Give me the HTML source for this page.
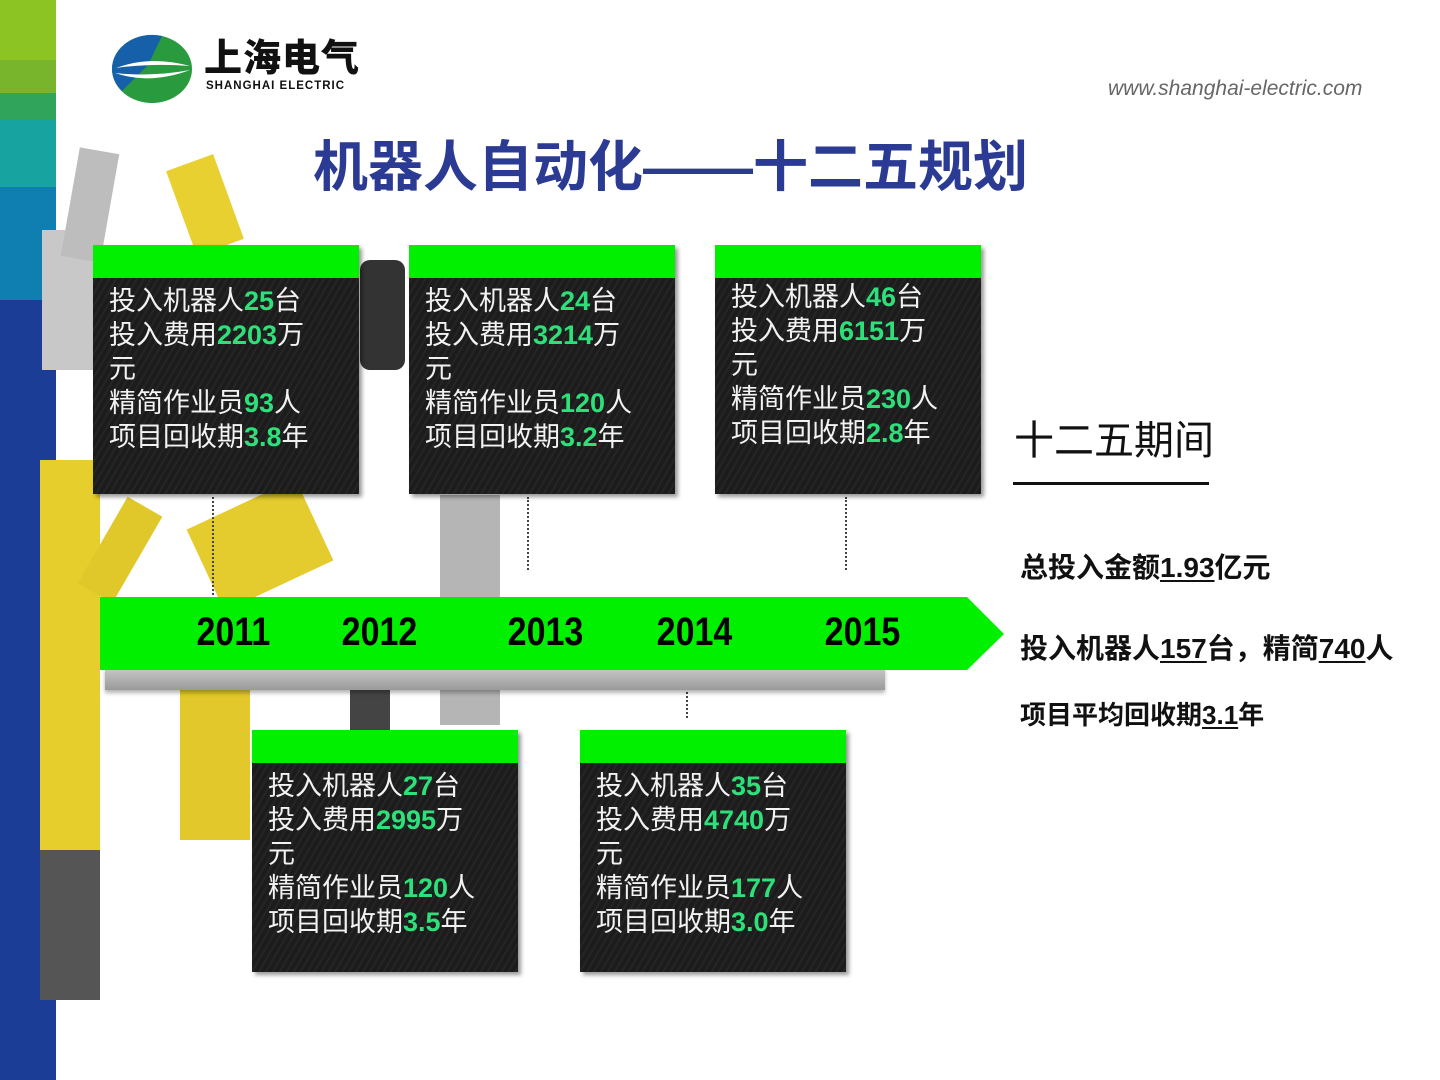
<!DOCTYPE html>
<html><head><meta charset="utf-8"><style>
body{margin:0;width:1440px;height:1080px;position:relative;overflow:hidden;background:#fff;font-family:"Liberation Sans","Noto Sans CJK SC",sans-serif}
.a{position:absolute}
.box{position:absolute;width:266px;background:#1c1c1c;background-image:repeating-linear-gradient(120deg,rgba(255,255,255,0.04) 0 2px,transparent 2px 6px);box-shadow:3px 3px 4px rgba(0,0,0,.4)}
.box .g{height:33px;background:#00f000}
.box .t{color:#f2f2f2;font-size:27px;line-height:34px;padding:6px 0 0 16px;white-space:nowrap}
.box b{color:#2de07a;font-weight:bold}
.yr{position:absolute;top:610px;font-family:"Liberation Sans Narrow","Liberation Sans",sans-serif;font-weight:bold;font-size:40px;color:#000;transform:scaleX(.85);transform-origin:center}
.dot{position:absolute;border-left:2px dotted #444;width:0}
.r{position:absolute;left:1020px;font-size:28px;font-weight:bold;color:#111;white-space:nowrap}
.r u{text-decoration:underline;text-underline-offset:3px}
</style></head><body>
<!-- left strip -->
<div class="a" style="left:0;top:0;width:56px;height:60px;background:#8cc423"></div>
<div class="a" style="left:0;top:60px;width:56px;height:33px;background:#78b42c"></div>
<div class="a" style="left:0;top:93px;width:56px;height:27px;background:#2fa45a"></div>
<div class="a" style="left:0;top:120px;width:56px;height:67px;background:#17a3a0"></div>
<div class="a" style="left:0;top:187px;width:56px;height:113px;background:#0f7fb2"></div>
<div class="a" style="left:0;top:300px;width:56px;height:780px;background:#1b3d96"></div>
<!-- robot approximations -->
<div class="a" style="left:42px;top:230px;width:60px;height:140px;background:#c8c8c8"></div>
<div class="a" style="left:70px;top:150px;width:40px;height:110px;background:#bdbdbd;transform:rotate(10deg)"></div>
<div class="a" style="left:180px;top:160px;width:50px;height:90px;background:#e8d030;transform:rotate(-20deg)"></div>
<div class="a" style="left:40px;top:460px;width:60px;height:500px;background:#e6cf2c"></div>
<div class="a" style="left:100px;top:500px;width:40px;height:100px;background:#e0c82a;transform:rotate(30deg)"></div>
<div class="a" style="left:180px;top:690px;width:70px;height:150px;background:#e2c82a"></div>
<div class="a" style="left:40px;top:850px;width:60px;height:150px;background:#555"></div>
<div class="a" style="left:200px;top:500px;width:120px;height:90px;background:#e4cc2e;transform:rotate(-25deg)"></div>
<div class="a" style="left:360px;top:260px;width:45px;height:110px;background:#333;border-radius:10px"></div>
<div class="a" style="left:440px;top:495px;width:60px;height:230px;background:#b5b5b5"></div>
<div class="a" style="left:350px;top:680px;width:40px;height:50px;background:#444"></div>
<!-- logo -->
<svg class="a" style="left:110px;top:33px" width="85" height="72" viewBox="0 0 85 72">
<ellipse cx="42" cy="36" rx="40" ry="34" fill="#2a9a3e"/>
<path d="M2 36 A40 34 0 0 1 52 3 L38 32 Z" fill="#1560a8"/>
<path d="M2 36 A40 34 0 0 0 12 58 L38 32 Z" fill="#1560a8"/>
<path d="M6 35 Q40 22 80 33 Q42 30 6 35Z" fill="#fff"/>
<path d="M5 40 Q42 44 80 37 Q40 52 5 40Z" fill="#fff"/>
</svg>
<div class="a" style="left:204px;top:36px;font-size:38px;line-height:46px;font-weight:900;color:#111;letter-spacing:1px">上海电气</div>
<div class="a" style="left:206px;top:80px;font-size:11.5px;font-weight:bold;color:#111;letter-spacing:1px">SHANGHAI ELECTRIC</div>
<div class="a" style="left:1108px;top:77px;font-size:21px;font-style:italic;color:#666">www.shanghai-electric.com</div>
<div class="a" style="left:313px;top:122px;font-size:55px;font-weight:bold;color:#2b3a92;white-space:nowrap">机器人自动化——十二五规划</div>
<!-- dotted connectors -->
<div class="dot" style="left:212px;top:497px;height:98px"></div>
<div class="dot" style="left:527px;top:497px;height:73px"></div>
<div class="dot" style="left:845px;top:497px;height:73px"></div>
<div class="dot" style="left:686px;top:683px;height:35px"></div>
<!-- timeline -->
<div class="a" style="left:105px;top:668px;width:780px;height:22px;background:linear-gradient(#c8c8c8,#9a9a9a);box-shadow:0 3px 4px rgba(0,0,0,.3)"></div>
<svg class="a" style="left:100px;top:597px" width="906" height="74"><polygon points="0,0 867,0 904,37 867,73 0,73" fill="#00f000"/></svg>
<div class="yr" style="left:190px">2011</div>
<div class="yr" style="left:335px">2012</div>
<div class="yr" style="left:501px">2013</div>
<div class="yr" style="left:650px">2014</div>
<div class="yr" style="left:818px">2015</div>
<!-- boxes -->
<div class="box" style="left:93px;top:245px;height:249px"><div class="g"></div><div class="t">投入机器人<b>25</b>台<br>投入费用<b>2203</b>万<br>元<br>精简作业员<b>93</b>人<br>项目回收期<b>3.8</b>年</div></div>
<div class="box" style="left:409px;top:245px;height:249px"><div class="g"></div><div class="t">投入机器人<b>24</b>台<br>投入费用<b>3214</b>万<br>元<br>精简作业员<b>120</b>人<br>项目回收期<b>3.2</b>年</div></div>
<div class="box" style="left:715px;top:245px;height:249px"><div class="g"></div><div class="t" style="padding-top:2px">投入机器人<b>46</b>台<br>投入费用<b>6151</b>万<br>元<br>精简作业员<b>230</b>人<br>项目回收期<b>2.8</b>年</div></div>
<div class="box" style="left:252px;top:730px;height:242px"><div class="g"></div><div class="t">投入机器人<b>27</b>台<br>投入费用<b>2995</b>万<br>元<br>精简作业员<b>120</b>人<br>项目回收期<b>3.5</b>年</div></div>
<div class="box" style="left:580px;top:730px;height:242px"><div class="g"></div><div class="t">投入机器人<b>35</b>台<br>投入费用<b>4740</b>万<br>元<br>精简作业员<b>177</b>人<br>项目回收期<b>3.0</b>年</div></div>
<!-- right -->
<div class="a" style="left:1014px;top:408px;font-size:40px;color:#111;white-space:nowrap">十二五期间</div>
<div class="a" style="left:1013px;top:482px;width:196px;height:3px;background:#111"></div>
<div class="r" style="top:546px">总投入金额<u>1.93</u>亿元</div>
<div class="r" style="top:627px">投入机器人<u>157</u>台，精简<u>740</u>人</div>
<div class="r" style="top:695px;font-size:26px">项目平均回收期<u>3.1</u>年</div>
</body></html>
